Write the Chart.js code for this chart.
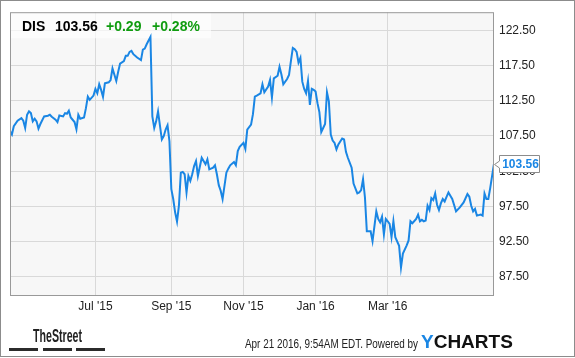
<!DOCTYPE html>
<html>
<head>
<meta charset="utf-8">
<script src="https://cdn.jsdelivr.net/npm/chart.js@4.4.1/dist/chart.umd.min.js"></script>
<style>
  html, body { margin: 0; padding: 0; background: #fff; }
  canvas { display: block; }
</style>
</head>
<body>
<canvas id="grafico" width="575" height="358"></canvas>
<script>
// ---- datos: índice de sesión bursátil (abr 2015 - abr 2016) y cierre de DIS ----
const tradingDays = [
  0, 1, 2, 4, 6, 7, 8, 9, 10, 11, 12, 13, 14, 15, 16, 18, 20, 21, 22, 24,
  25, 26, 28, 29, 30, 31, 32, 34, 35, 36, 37, 39, 40, 41, 42, 44, 45, 46, 47, 48,
  49, 50, 52, 53, 54, 56, 57, 58, 60, 61, 62, 63, 64, 65, 67, 69, 70, 71, 72, 74,
  75, 76, 77, 78, 80, 81, 82, 83, 84, 85, 86, 87, 88, 89, 90, 91, 92, 93, 94, 95,
  96, 97, 98, 99, 101, 102, 103, 104, 105, 107, 108, 109, 110, 111, 112, 114, 115, 116, 118, 119,
  120, 121, 123, 124, 125, 127, 128, 129, 130, 132, 133, 134, 136, 137, 138, 139, 141, 142, 143, 144,
  146, 147, 148, 149, 150, 151, 152, 153, 154, 155, 156, 157, 158, 159, 160, 161, 162, 163, 164, 165,
  166, 167, 168, 169, 170, 171, 172, 173, 175, 176, 177, 178, 180, 181, 183, 184, 185, 186, 187, 188,
  190, 191, 193, 194, 195, 196, 197, 198, 199, 200, 201, 202, 203, 205, 206, 207, 209, 210, 211, 212,
  214, 215, 216, 217, 218, 219, 220, 221, 222, 223, 224, 225, 226, 227, 228, 229, 230, 231, 232, 233,
  235, 237, 239, 241, 242, 243, 244, 245, 246, 248, 249, 250, 251, 252, 253, 254, 255
];
const closePrices = [
  108.17, 107.71, 108.88, 109.68, 110.04, 109.68, 108.64, 110.52, 110.99, 110.75, 109.58, 109.96, 109.58, 108.55, 109.20, 110.28, 110.38, 110.52, 110.24, 109.82,
  109.48, 110.42, 110.28, 110.75, 110.66, 111.09, 110.14, 109.48, 108.45, 110.52, 109.96, 110.14, 111.45, 113.10, 112.64, 113.24, 114.19, 113.57, 114.84, 114.05,
  113.06, 114.98, 115.12, 115.45, 117.09, 115.31, 116.62, 117.79, 118.13, 118.88, 118.88, 119.44, 119.58, 119.12, 118.64, 118.27, 119.77, 119.91, 120.53, 121.56,
  110.28, 108.64, 109.58, 110.99, 107.00, 107.47, 108.41, 109.02, 106.76, 99.96, 98.55, 96.66, 95.35, 97.60, 102.29, 102.39, 102.07, 99.48, 101.83, 101.13,
  102.07, 103.24, 103.94, 101.83, 104.41, 103.94, 103.48, 104.18, 102.77, 103.00, 103.34, 102.07, 100.52, 99.72, 98.55, 102.29, 102.86, 103.34, 103.80, 103.34,
  105.35, 105.96, 106.52, 105.68, 108.41, 109.11, 110.60, 113.10, 113.24, 113.57, 114.84, 113.71, 114.51, 115.45, 112.96, 115.68, 116.06, 117.33, 116.24, 114.84,
  115.60, 116.16, 118.13, 120.01, 119.82, 119.44, 117.93, 118.60, 115.22, 114.19, 113.57, 115.31, 111.93, 114.19, 114.05, 113.81, 112.16, 110.89, 108.07, 108.64,
  109.20, 113.71, 112.40, 107.71, 106.86, 106.52, 105.59, 106.30, 107.14, 107.00, 105.25, 104.41, 103.00, 100.74, 99.34, 99.48, 99.82, 101.36, 98.80, 93.98,
  93.98, 92.57, 96.80, 95.73, 95.25, 96.05, 93.52, 95.73, 95.39, 95.02, 93.14, 95.39, 93.14, 91.90, 88.82, 90.80, 91.97, 92.67, 95.39, 95.11,
  95.73, 96.33, 95.39, 95.59, 95.39, 95.49, 97.60, 97.00, 98.69, 98.41, 99.34, 97.74, 97.00, 97.93, 98.55, 98.21, 98.87, 99.48, 99.01, 98.55,
  96.80, 97.36, 98.07, 99.25, 98.87, 97.60, 96.80, 97.14, 96.19, 96.33, 96.19, 99.34, 98.55, 98.55, 100.10, 101.83, 103.56
];

// etiquetas de ejes
const xTickDays = [45, 85, 123, 161, 199];
const xTickLabels = ["Jul '15", "Sep '15", "Nov '15", "Jan '16", "Mar '16"];
const yTickValues = [87.5, 92.5, 97.5, 102.5, 107.5, 112.5, 117.5, 122.5];

// cabecera
const ticker = "DIS";
const lastPrice = "103.56";
const change = "+0.29";
const changePct = "+0.28%";
const timestamp = "Apr 21 2016, 9:54AM EDT. Powered by";

const AZUL = '#1a86e4';
const FUENTE = '"Liberation Sans", Arial, sans-serif';

// ---- plugin para marco, cabecera, etiqueta final y pie ----
const decoracion = {
  id: 'decoracion',
  beforeDraw(chart) {
    const ctx = chart.ctx;
    const a = chart.chartArea;
    ctx.save();
    ctx.fillStyle = '#fff';
    ctx.fillRect(0, 0, chart.width, chart.height);
    ctx.strokeStyle = '#8c8c8c';
    ctx.lineWidth = 1;
    ctx.strokeRect(0.5, 0.5, chart.width - 1, chart.height - 2);
    ctx.fillStyle = '#f7f7f7';
    ctx.fillRect(a.left, a.top, a.right - a.left, a.bottom - a.top);
    ctx.restore();
  },
  beforeDatasetsDraw(chart) {
    const ctx = chart.ctx;
    const a = chart.chartArea;
    ctx.save();
    ctx.fillStyle = 'rgba(255,255,255,0.65)';
    ctx.fillRect(a.left, a.top, 201, 26);
    ctx.font = 'bold 14px ' + FUENTE;
    ctx.textBaseline = 'alphabetic';
    ctx.fillStyle = '#000';
    ctx.fillText(ticker, a.left + 12, a.top + 19);
    ctx.fillText(lastPrice, a.left + 45, a.top + 19);
    ctx.fillStyle = '#109c10';
    ctx.fillText(change, a.left + 96, a.top + 19);
    ctx.fillText(changePct, a.left + 142, a.top + 19);
    ctx.restore();
  },
  afterDatasetsDraw(chart) {
    const ctx = chart.ctx;
    const a = chart.chartArea;
    ctx.save();
    // borde del área de trazado
    ctx.strokeStyle = '#999';
    ctx.lineWidth = 1;
    ctx.strokeRect(a.left + 0.5, a.top + 0.5, a.right - a.left - 1, a.bottom - a.top);
    ctx.restore();
  },
  afterDraw(chart) {
    const ctx = chart.ctx;
    const xs = chart.scales.x, ys = chart.scales.y;
    const n = tradingDays.length - 1;
    const px = Math.round(xs.getPixelForValue(tradingDays[n]));
    const py = Math.round(ys.getPixelForValue(closePrices[n]));
    ctx.save();
    // etiqueta del último precio
    const bx = px + 5.5, by = py - 8.5, w = 40, h = 17;
    ctx.beginPath();
    ctx.moveTo(bx, by);
    ctx.lineTo(bx + w, by);
    ctx.lineTo(bx + w, by + h);
    ctx.lineTo(bx, by + h);
    ctx.lineTo(bx, py + 4);
    ctx.lineTo(px + 0.5, py + 0.5);
    ctx.lineTo(bx, py - 3);
    ctx.closePath();
    ctx.fillStyle = '#fff';
    ctx.fill();
    ctx.strokeStyle = '#8c8c8c';
    ctx.lineWidth = 1;
    ctx.stroke();
    ctx.fillStyle = AZUL;
    ctx.font = 'bold 12px ' + FUENTE;
    ctx.textAlign = 'center';
    ctx.textBaseline = 'middle';
    ctx.fillText(closePrices[n].toFixed(2), bx + w / 2 + 1, py + 1);

    // pie: TheStreet
    ctx.textAlign = 'left';
    ctx.textBaseline = 'alphabetic';
    ctx.fillStyle = '#222';
    ctx.font = 'bold 19px ' + FUENTE;
    const tw = ctx.measureText('TheStreet').width;
    ctx.save();
    ctx.translate(33, 342);
    ctx.scale(49 / tw, 1);
    ctx.fillText('TheStreet', 0, 0);
    ctx.restore();
    ctx.fillStyle = '#2b2b2b';
    ctx.fillRect(9, 348, 29, 3);
    ctx.fillRect(43, 348, 29, 3);
    ctx.fillRect(76, 348, 29, 3);

    // pie: fecha y YCHARTS
    ctx.fillStyle = '#222';
    ctx.font = '12px ' + FUENTE;
    const fw = ctx.measureText(timestamp).width;
    ctx.save();
    ctx.translate(245, 348);
    ctx.scale(Math.min(1, 173 / fw), 1);
    ctx.fillText(timestamp, 0, 0);
    ctx.restore();
    ctx.font = 'bold 19px ' + FUENTE;
    ctx.fillStyle = AZUL;
    ctx.fillText('Y', 421, 348);
    const yw = ctx.measureText('Y').width;
    ctx.fillStyle = '#111';
    ctx.fillText('CHARTS', 421 + yw, 348);
    ctx.restore();
  }
};

// ---- gráfico ----
const ctx = document.getElementById('grafico').getContext('2d');
new Chart(ctx, {
  type: 'line',
  data: {
    datasets: [{
      data: tradingDays.map((d, i) => ({ x: d, y: closePrices[i] })),
      borderColor: AZUL,
      borderWidth: 2,
      pointRadius: 0,
      tension: 0,
      fill: false
    }]
  },
  options: {
    responsive: false,
    animation: false,
    layout: { padding: { left: 10, top: 10, right: 0, bottom: 0 } },
    plugins: { legend: { display: false }, tooltip: { enabled: false } },
    scales: {
      x: {
        type: 'linear',
        position: 'bottom',
        min: 0,
        max: 255,
        grid: { color: '#d9d9d9', drawTicks: false },
        border: { display: false },
        afterBuildTicks: s => { s.ticks = xTickDays.map(v => ({ value: v })); },
        afterFit: s => { s.height = 63; },
        ticks: {
          autoSkip: false,
          maxRotation: 0,
          padding: 4,
          color: '#222',
          font: { family: FUENTE, size: 12 },
          callback: v => xTickLabels[xTickDays.indexOf(v)]
        }
      },
      y: {
        position: 'right',
        min: 84.92,
        max: 125.08,
        grid: { color: '#d9d9d9', drawTicks: false },
        border: { display: false },
        afterBuildTicks: s => { s.ticks = yTickValues.map(v => ({ value: v })); },
        afterFit: s => { s.width = 81; },
        ticks: {
          padding: 5,
          color: '#222',
          font: { family: FUENTE, size: 12 },
          callback: v => Number(v).toFixed(2)
        }
      }
    }
  },
  plugins: [decoracion]
});
</script>
</body>
</html>
